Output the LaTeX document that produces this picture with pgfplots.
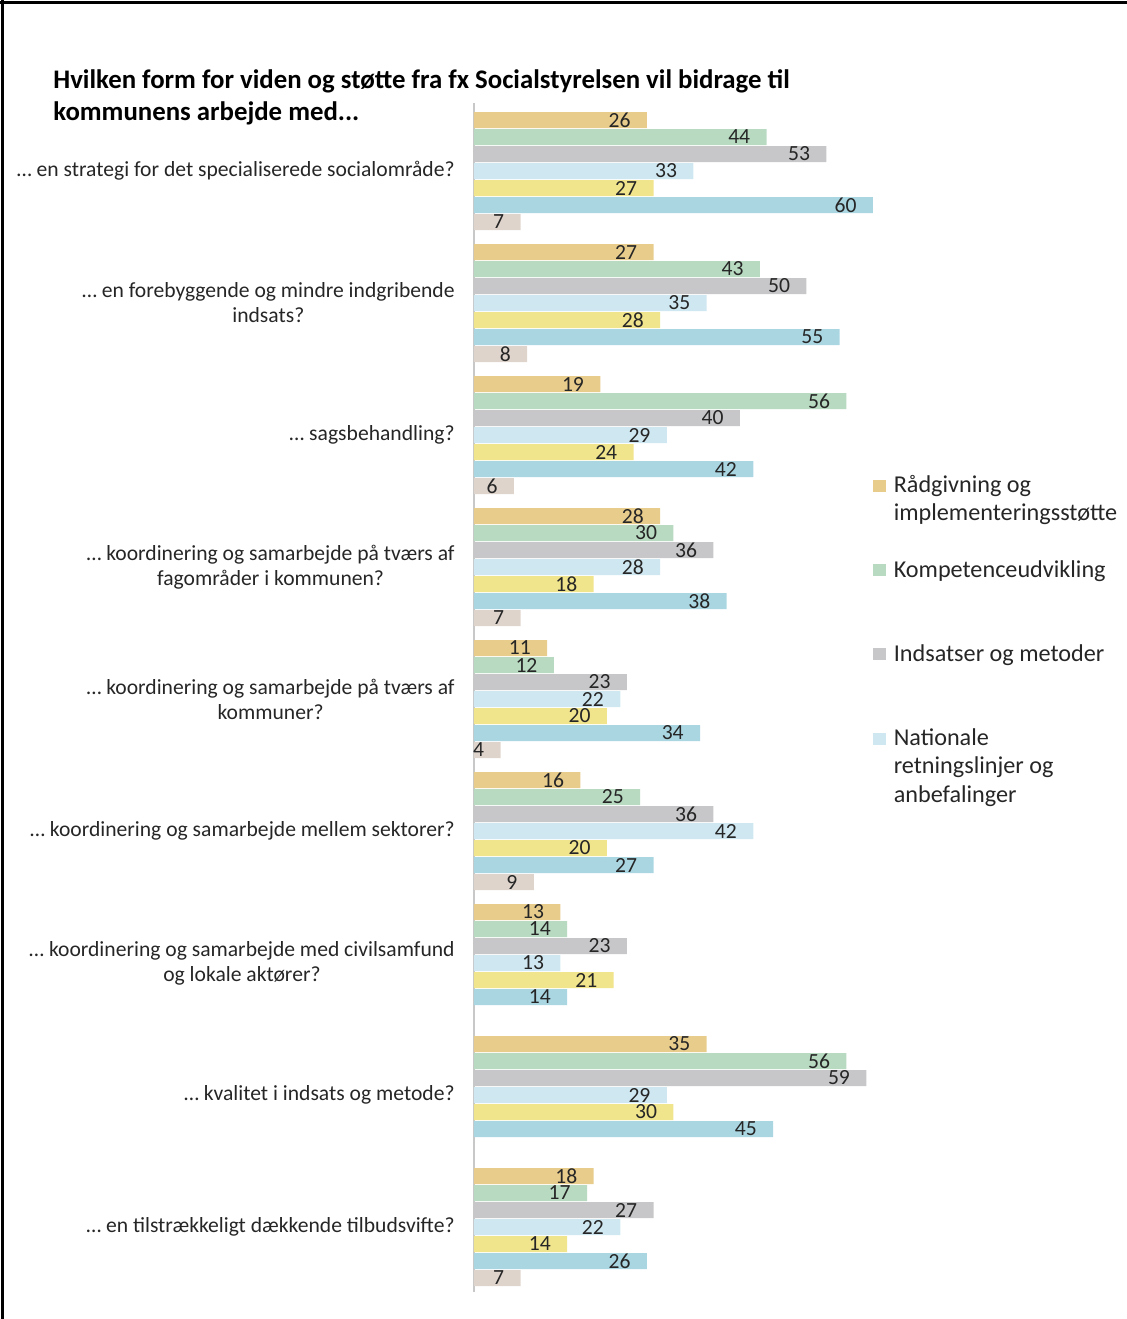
\documentclass[border=0pt]{standalone}
\usepackage{fontspec}
\setmainfont{Carlito}
\usepackage{pgfplots}
\pgfplotsset{compat=1.18}
\definecolor{cgold}{RGB}{232,204,140}
\definecolor{cgreen}{RGB}{184,218,193}
\definecolor{cgrey}{RGB}{199,199,202}
\definecolor{clblue}{RGB}{207,231,240}
\definecolor{cyellow}{RGB}{240,228,140}
\definecolor{cblue}{RGB}{170,214,226}
\definecolor{cbeige}{RGB}{222,212,204}
\definecolor{axisgrey}{RGB}{200,200,200}
\definecolor{txt}{RGB}{38,38,38}
\begin{document}
\begin{tikzpicture}[x=1pt,y=1pt]
\useasboundingbox (0,0) rectangle (563.5,-659.5);
\draw[line width=1.5pt, black] (0,-1.2) -- (563.5,-1.2);
\draw[line width=1.6pt, black] (1.3,0) -- (1.3,-659.5);
\node[anchor=west, inner sep=0pt, align=left, font=\bfseries\fontsize{13.4}{16}\selectfont] at (26.5,-48.5)
  {Hvilken form for viden og støtte fra fx Socialstyrelsen vil bidrage til\\kommunens arbejde med...};
\begin{axis}[
  at={(237pt,-51.5pt)}, anchor=north west,
  scale only axis, width=199.5pt, height=594.5pt,
  xmin=0, xmax=60, ymin=-17, ymax=1172, y dir=reverse,
  /pgfplots/xbar legend/.style={legend image code/.code={\fill[##1, draw=none] (0pt,-3.6pt) rectangle (6.2pt,2.4pt);}},
  xbar, bar width=16,
  axis x line=none, axis y line=left,
  y axis line style={-, draw=axisgrey, line width=1pt},
  major tick length=0pt,
  ytick={51,183,315,447,579,711,843,975,1107},
  yticklabels={
    {… en strategi for det specialiserede socialområde?},
    {… en forebyggende og mindre indgribende\\indsats?},
    {… sagsbehandling?},
    {… koordinering og samarbejde på tværs af\\fagområder i kommunen?},
    {… koordinering og samarbejde på tværs af\\kommuner?},
    {… koordinering og samarbejde mellem sektorer?},
    {… koordinering og samarbejde med civilsamfund\\og lokale aktører?},
    {… kvalitet i indsats og metode?},
    {… en tilstrækkeligt dækkende tilbudsvifte?}},
  yticklabel style={align=center, inner sep=0pt, xshift=-9.5pt, text=txt,
    font=\fontsize{10.8}{12.5}\selectfont},
  point meta=x,
  nodes near coords,
  every node near coord/.append style={anchor=east, inner sep=0pt, xshift=-8pt,
    text=txt, font=\fontsize{10.8}{11}\selectfont},
  /pgf/number format/assume math mode=true,
  legend style={at={(1,0.689)}, anchor=north west, draw=none, fill=none, inner sep=0pt,
    nodes={inner sep=0pt}, row sep=2.85pt, text=txt,
    font=\fontsize{12.1}{13.875}\selectfont,
    /tikz/every odd column/.append style={column sep=4pt}},
  legend cell align=left,
]
\addplot[draw=none, fill=cgold, bar shift=0pt] coordinates
  {(26,0) (27,132) (19,264) (28,396) (11,528) (16,660) (13,792) (35,924) (18,1056)};
\addlegendentry{\strut Rådgivning og}
\addlegendimage{empty legend}\addlegendentry{\strut implementeringsstøtte}
\addlegendimage{empty legend}\addlegendentry{\strut}
\addplot[draw=none, fill=cgreen, bar shift=0pt] coordinates
  {(44,17) (43,149) (56,281) (30,413) (12,545) (25,677) (14,809) (56,941) (17,1073)};
\addlegendentry{\strut Kompetenceudvikling}
\addlegendimage{empty legend}\addlegendentry{\strut}
\addlegendimage{empty legend}\addlegendentry{\strut}
\addplot[draw=none, fill=cgrey, bar shift=0pt] coordinates
  {(53,34) (50,166) (40,298) (36,430) (23,562) (36,694) (23,826) (59,958) (27,1090)};
\addlegendentry{\strut Indsatser og metoder}
\addlegendimage{empty legend}\addlegendentry{\strut}
\addlegendimage{empty legend}\addlegendentry{\strut}
\addplot[draw=none, fill=clblue, bar shift=0pt] coordinates
  {(33,51) (35,183) (29,315) (28,447) (22,579) (42,711) (13,843) (29,975) (22,1107)};
\addlegendentry{\strut Nationale}
\addlegendimage{empty legend}\addlegendentry{\strut retningslinjer og}
\addlegendimage{empty legend}\addlegendentry{\strut anbefalinger}
\addplot[draw=none, fill=cyellow, bar shift=0pt, forget plot] coordinates
  {(27,68) (28,200) (24,332) (18,464) (20,596) (20,728) (21,860) (30,992) (14,1124)};
\addplot[draw=none, fill=cblue, bar shift=0pt, forget plot] coordinates
  {(60,85) (55,217) (42,349) (38,481) (34,613) (27,745) (14,877) (45,1009) (26,1141)};
\addplot[draw=none, fill=cbeige, bar shift=0pt, forget plot] coordinates
  {(7,102) (8,234) (6,366) (7,498) (4,630) (9,762) (7,1158)};
\end{axis}
\end{tikzpicture}
\end{document}
